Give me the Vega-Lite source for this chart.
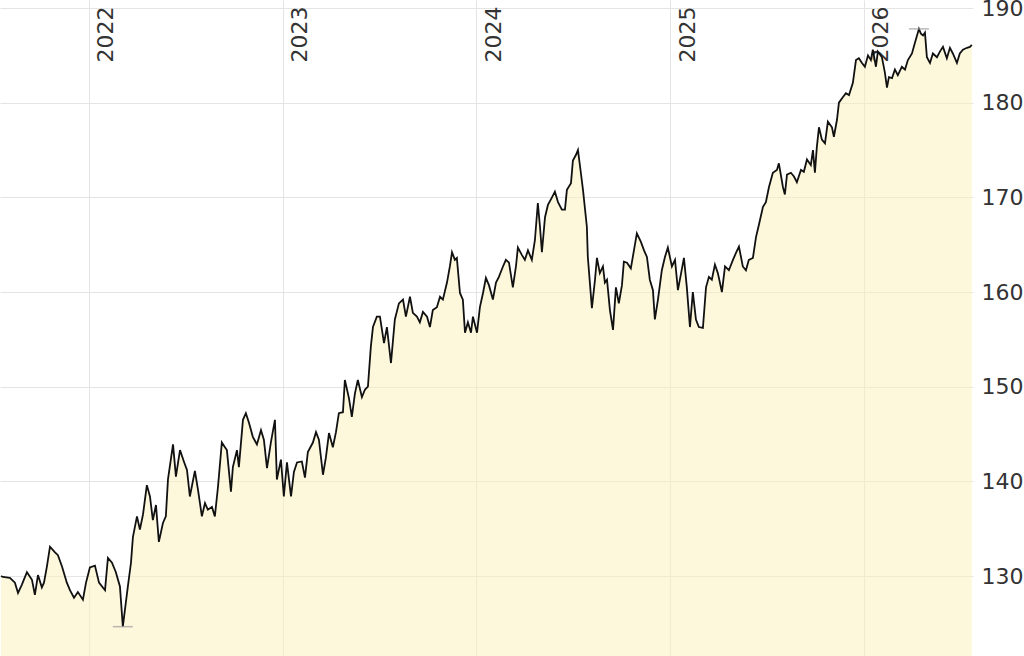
{
  "$schema": "https://vega.github.io/schema/vega-lite/v6.json",
  "width": 973,
  "height": 656,
  "autosize": {"type": "none"},
  "padding": {"left": 0, "top": 0, "right": 51, "bottom": 0},
  "background": "white",
  "config": {"view": {"stroke": null}},
  "datasets": {
    "prices": [
      {"t": 2021.546, "v": 130.0}, {"t": 2021.556, "v": 129.9}, {"t": 2021.592, "v": 129.8}, {"t": 2021.618, "v": 129.3},
      {"t": 2021.634, "v": 128.2}, {"t": 2021.654, "v": 129.1}, {"t": 2021.680, "v": 130.4}, {"t": 2021.706, "v": 129.6},
      {"t": 2021.721, "v": 128.0}, {"t": 2021.737, "v": 130.1}, {"t": 2021.757, "v": 128.8}, {"t": 2021.768, "v": 129.3},
      {"t": 2021.783, "v": 131.0}, {"t": 2021.799, "v": 133.1}, {"t": 2021.825, "v": 132.5}, {"t": 2021.840, "v": 132.2},
      {"t": 2021.861, "v": 131.0}, {"t": 2021.886, "v": 129.3}, {"t": 2021.902, "v": 128.5}, {"t": 2021.923, "v": 127.7},
      {"t": 2021.943, "v": 128.3}, {"t": 2021.969, "v": 127.5}, {"t": 2021.985, "v": 129.3}, {"t": 2022.005, "v": 130.9},
      {"t": 2022.031, "v": 131.1}, {"t": 2022.052, "v": 129.3}, {"t": 2022.083, "v": 128.5}, {"t": 2022.098, "v": 131.9},
      {"t": 2022.119, "v": 131.4}, {"t": 2022.139, "v": 130.4}, {"t": 2022.160, "v": 128.9}, {"t": 2022.175, "v": 124.65},
      {"t": 2022.201, "v": 128.9}, {"t": 2022.217, "v": 131.4}, {"t": 2022.227, "v": 134.1}, {"t": 2022.248, "v": 136.3},
      {"t": 2022.263, "v": 134.9}, {"t": 2022.279, "v": 136.5}, {"t": 2022.299, "v": 139.6}, {"t": 2022.315, "v": 138.4},
      {"t": 2022.330, "v": 135.9}, {"t": 2022.346, "v": 137.5}, {"t": 2022.361, "v": 133.6}, {"t": 2022.382, "v": 135.6},
      {"t": 2022.397, "v": 136.3}, {"t": 2022.408, "v": 140.2}, {"t": 2022.434, "v": 143.9}, {"t": 2022.449, "v": 140.5},
      {"t": 2022.470, "v": 143.3}, {"t": 2022.490, "v": 142.1}, {"t": 2022.506, "v": 141.2}, {"t": 2022.521, "v": 138.4},
      {"t": 2022.547, "v": 141.1}, {"t": 2022.563, "v": 139.1}, {"t": 2022.583, "v": 136.3}, {"t": 2022.599, "v": 137.7},
      {"t": 2022.614, "v": 137.0}, {"t": 2022.635, "v": 137.3}, {"t": 2022.650, "v": 136.3}, {"t": 2022.666, "v": 139.4},
      {"t": 2022.686, "v": 144.1}, {"t": 2022.702, "v": 143.6}, {"t": 2022.712, "v": 143.3}, {"t": 2022.733, "v": 138.9},
      {"t": 2022.743, "v": 141.5}, {"t": 2022.764, "v": 143.3}, {"t": 2022.774, "v": 141.5}, {"t": 2022.795, "v": 146.5},
      {"t": 2022.810, "v": 147.2}, {"t": 2022.826, "v": 146.2}, {"t": 2022.846, "v": 144.7}, {"t": 2022.867, "v": 143.9},
      {"t": 2022.888, "v": 145.4}, {"t": 2022.903, "v": 144.4}, {"t": 2022.919, "v": 141.4}, {"t": 2022.939, "v": 144.1},
      {"t": 2022.960, "v": 146.5}, {"t": 2022.970, "v": 140.2}, {"t": 2022.991, "v": 142.3}, {"t": 2023.006, "v": 138.4},
      {"t": 2023.022, "v": 142.0}, {"t": 2023.043, "v": 138.4}, {"t": 2023.058, "v": 141.0}, {"t": 2023.074, "v": 142.0},
      {"t": 2023.099, "v": 142.1}, {"t": 2023.115, "v": 140.4}, {"t": 2023.130, "v": 143.1}, {"t": 2023.156, "v": 144.1},
      {"t": 2023.172, "v": 145.2}, {"t": 2023.187, "v": 144.4}, {"t": 2023.208, "v": 140.7}, {"t": 2023.223, "v": 142.5},
      {"t": 2023.239, "v": 145.1}, {"t": 2023.259, "v": 143.6}, {"t": 2023.275, "v": 145.2}, {"t": 2023.290, "v": 147.2},
      {"t": 2023.311, "v": 147.3}, {"t": 2023.321, "v": 150.7}, {"t": 2023.342, "v": 148.8}, {"t": 2023.357, "v": 146.8},
      {"t": 2023.373, "v": 149.3}, {"t": 2023.388, "v": 150.7}, {"t": 2023.409, "v": 148.9}, {"t": 2023.425, "v": 149.7},
      {"t": 2023.440, "v": 150.0}, {"t": 2023.455, "v": 154.2}, {"t": 2023.466, "v": 156.3}, {"t": 2023.486, "v": 157.4},
      {"t": 2023.502, "v": 157.4}, {"t": 2023.523, "v": 154.6}, {"t": 2023.538, "v": 156.3}, {"t": 2023.559, "v": 152.5},
      {"t": 2023.579, "v": 157.1}, {"t": 2023.600, "v": 158.8}, {"t": 2023.621, "v": 159.2}, {"t": 2023.636, "v": 157.4},
      {"t": 2023.657, "v": 159.5}, {"t": 2023.672, "v": 157.8}, {"t": 2023.693, "v": 157.4}, {"t": 2023.708, "v": 156.8},
      {"t": 2023.724, "v": 157.9}, {"t": 2023.745, "v": 157.4}, {"t": 2023.760, "v": 156.3}, {"t": 2023.775, "v": 158.1},
      {"t": 2023.796, "v": 158.4}, {"t": 2023.812, "v": 159.5}, {"t": 2023.827, "v": 159.2}, {"t": 2023.848, "v": 161.0},
      {"t": 2023.863, "v": 162.7}, {"t": 2023.874, "v": 164.2}, {"t": 2023.889, "v": 163.4}, {"t": 2023.899, "v": 163.6},
      {"t": 2023.915, "v": 159.9}, {"t": 2023.930, "v": 159.2}, {"t": 2023.941, "v": 155.7}, {"t": 2023.956, "v": 156.8},
      {"t": 2023.972, "v": 155.7}, {"t": 2023.982, "v": 157.4}, {"t": 2024.003, "v": 155.7}, {"t": 2024.018, "v": 158.4},
      {"t": 2024.034, "v": 159.9}, {"t": 2024.049, "v": 161.5}, {"t": 2024.065, "v": 160.7}, {"t": 2024.085, "v": 159.2},
      {"t": 2024.101, "v": 161.0}, {"t": 2024.116, "v": 161.6}, {"t": 2024.137, "v": 162.7}, {"t": 2024.152, "v": 163.4},
      {"t": 2024.168, "v": 163.1}, {"t": 2024.188, "v": 160.5}, {"t": 2024.204, "v": 162.7}, {"t": 2024.214, "v": 164.7},
      {"t": 2024.235, "v": 163.9}, {"t": 2024.250, "v": 163.4}, {"t": 2024.266, "v": 164.4}, {"t": 2024.286, "v": 163.4},
      {"t": 2024.302, "v": 165.5}, {"t": 2024.317, "v": 169.4}, {"t": 2024.328, "v": 166.9}, {"t": 2024.338, "v": 164.2},
      {"t": 2024.354, "v": 167.9}, {"t": 2024.369, "v": 169.2}, {"t": 2024.390, "v": 170.0}, {"t": 2024.405, "v": 170.6},
      {"t": 2024.421, "v": 169.5}, {"t": 2024.441, "v": 168.7}, {"t": 2024.457, "v": 168.7}, {"t": 2024.467, "v": 170.8},
      {"t": 2024.488, "v": 171.5}, {"t": 2024.498, "v": 173.9}, {"t": 2024.514, "v": 174.5}, {"t": 2024.524, "v": 175.0},
      {"t": 2024.539, "v": 172.6}, {"t": 2024.550, "v": 170.8}, {"t": 2024.570, "v": 166.9}, {"t": 2024.575, "v": 163.7},
      {"t": 2024.596, "v": 158.3}, {"t": 2024.612, "v": 161.3}, {"t": 2024.622, "v": 163.6}, {"t": 2024.637, "v": 162.0},
      {"t": 2024.653, "v": 162.7}, {"t": 2024.663, "v": 161.0}, {"t": 2024.674, "v": 161.3}, {"t": 2024.689, "v": 158.1},
      {"t": 2024.705, "v": 156.0}, {"t": 2024.720, "v": 160.5}, {"t": 2024.735, "v": 158.8}, {"t": 2024.751, "v": 160.7},
      {"t": 2024.761, "v": 163.2}, {"t": 2024.777, "v": 163.1}, {"t": 2024.797, "v": 162.5}, {"t": 2024.813, "v": 164.4},
      {"t": 2024.828, "v": 166.2}, {"t": 2024.849, "v": 165.3}, {"t": 2024.865, "v": 164.4}, {"t": 2024.880, "v": 163.7},
      {"t": 2024.895, "v": 161.3}, {"t": 2024.911, "v": 160.2}, {"t": 2024.921, "v": 157.1}, {"t": 2024.937, "v": 159.2},
      {"t": 2024.957, "v": 162.3}, {"t": 2024.973, "v": 163.7}, {"t": 2024.988, "v": 164.7}, {"t": 2025.009, "v": 162.7},
      {"t": 2025.025, "v": 163.4}, {"t": 2025.040, "v": 160.2}, {"t": 2025.061, "v": 162.5}, {"t": 2025.071, "v": 163.6},
      {"t": 2025.086, "v": 160.5}, {"t": 2025.102, "v": 156.3}, {"t": 2025.117, "v": 160.0}, {"t": 2025.133, "v": 157.1},
      {"t": 2025.148, "v": 156.3}, {"t": 2025.169, "v": 156.2}, {"t": 2025.185, "v": 160.5}, {"t": 2025.200, "v": 161.6},
      {"t": 2025.215, "v": 161.3}, {"t": 2025.231, "v": 162.9}, {"t": 2025.246, "v": 162.0}, {"t": 2025.267, "v": 160.0},
      {"t": 2025.283, "v": 162.7}, {"t": 2025.303, "v": 162.3}, {"t": 2025.324, "v": 163.4}, {"t": 2025.339, "v": 164.1},
      {"t": 2025.355, "v": 164.8}, {"t": 2025.375, "v": 162.7}, {"t": 2025.391, "v": 162.3}, {"t": 2025.406, "v": 163.4},
      {"t": 2025.427, "v": 163.6}, {"t": 2025.443, "v": 165.8}, {"t": 2025.458, "v": 167.1}, {"t": 2025.479, "v": 169.0},
      {"t": 2025.494, "v": 169.5}, {"t": 2025.510, "v": 171.1}, {"t": 2025.530, "v": 172.6}, {"t": 2025.551, "v": 172.9},
      {"t": 2025.561, "v": 173.6}, {"t": 2025.582, "v": 171.1}, {"t": 2025.592, "v": 170.3}, {"t": 2025.603, "v": 172.4},
      {"t": 2025.623, "v": 172.6}, {"t": 2025.639, "v": 172.2}, {"t": 2025.654, "v": 171.6}, {"t": 2025.675, "v": 172.9},
      {"t": 2025.690, "v": 172.7}, {"t": 2025.706, "v": 174.0}, {"t": 2025.726, "v": 173.4}, {"t": 2025.737, "v": 175.0},
      {"t": 2025.747, "v": 172.6}, {"t": 2025.757, "v": 175.3}, {"t": 2025.768, "v": 177.4}, {"t": 2025.783, "v": 176.1},
      {"t": 2025.799, "v": 175.7}, {"t": 2025.814, "v": 178.0}, {"t": 2025.835, "v": 177.4}, {"t": 2025.845, "v": 176.4},
      {"t": 2025.861, "v": 178.2}, {"t": 2025.871, "v": 180.0}, {"t": 2025.892, "v": 180.6}, {"t": 2025.907, "v": 181.0},
      {"t": 2025.923, "v": 180.8}, {"t": 2025.943, "v": 182.1}, {"t": 2025.959, "v": 184.5}, {"t": 2025.974, "v": 184.7},
      {"t": 2025.990, "v": 184.2}, {"t": 2026.005, "v": 183.8}, {"t": 2026.021, "v": 185.0}, {"t": 2026.036, "v": 184.5},
      {"t": 2026.046, "v": 185.6}, {"t": 2026.062, "v": 183.8}, {"t": 2026.072, "v": 185.4}, {"t": 2026.093, "v": 184.8},
      {"t": 2026.108, "v": 183.2}, {"t": 2026.119, "v": 181.6}, {"t": 2026.129, "v": 182.7}, {"t": 2026.145, "v": 182.6},
      {"t": 2026.160, "v": 183.5}, {"t": 2026.175, "v": 182.9}, {"t": 2026.196, "v": 183.8}, {"t": 2026.212, "v": 183.5},
      {"t": 2026.227, "v": 184.5}, {"t": 2026.248, "v": 185.2}, {"t": 2026.263, "v": 186.3}, {"t": 2026.284, "v": 187.8},
      {"t": 2026.294, "v": 187.3}, {"t": 2026.305, "v": 187.1}, {"t": 2026.315, "v": 187.4}, {"t": 2026.325, "v": 184.8},
      {"t": 2026.341, "v": 184.2}, {"t": 2026.356, "v": 185.2}, {"t": 2026.377, "v": 184.8}, {"t": 2026.392, "v": 185.4},
      {"t": 2026.408, "v": 185.9}, {"t": 2026.428, "v": 184.7}, {"t": 2026.444, "v": 185.8}, {"t": 2026.459, "v": 185.2},
      {"t": 2026.480, "v": 184.2}, {"t": 2026.495, "v": 185.2}, {"t": 2026.511, "v": 185.6}, {"t": 2026.532, "v": 185.8},
      {"t": 2026.547, "v": 185.9}, {"t": 2026.557, "v": 186.1}
    ],
    "extremes": [
      {"t": 2022.175, "v": 124.65, "kind": "min"},
      {"t": 2026.284, "v": 187.8, "kind": "max"}
    ]
  },
  "data": {"name": "prices"},
  "encoding": {
    "x": {
      "field": "t",
      "type": "quantitative",
      "scale": {"domain": [2021.541, 2026.563], "nice": false, "zero": false},
      "axis": {
        "orient": "top",
        "values": [2022, 2023, 2024, 2025, 2026],
        "format": "d",
        "title": null,
        "domain": false,
        "ticks": false,
        "tickSize": 0,
        "labelAngle": 270,
        "labelAlign": "right",
        "labelBaseline": "middle",
        "labelOffset": 17,
        "labelPadding": -6,
        "labelFlush": false,
        "labelOverlap": false,
        "labelFont": "DejaVu Sans",
        "labelFontSize": 22,
        "labelColor": "#333333",
        "grid": true,
        "gridColor": "#e4e4e4",
        "gridWidth": 1
      }
    },
    "y": {
      "field": "v",
      "type": "quantitative",
      "scale": {"domain": [121.55, 190.85], "nice": false, "zero": false},
      "axis": {
        "orient": "right",
        "values": [130, 140, 150, 160, 170, 180, 190],
        "title": null,
        "domain": false,
        "ticks": false,
        "tickSize": 0,
        "labelPadding": 8,
        "labelFlush": false,
        "labelOverlap": false,
        "labelFont": "DejaVu Sans",
        "labelFontSize": 22,
        "labelColor": "#333333",
        "grid": true,
        "gridColor": "#e4e4e4",
        "gridWidth": 1
      }
    }
  },
  "layer": [
    {"mark": {"type": "area", "color": "#fbf2b9", "opacity": 0.5, "clip": true}},
    {"mark": {"type": "line", "color": "#111111", "strokeWidth": 1.8, "clip": true}},
    {
      "data": {"name": "extremes"},
      "mark": {"type": "tick", "orient": "horizontal", "color": "#9a9a9a", "size": 20, "thickness": 1.5}
    }
  ]
}
